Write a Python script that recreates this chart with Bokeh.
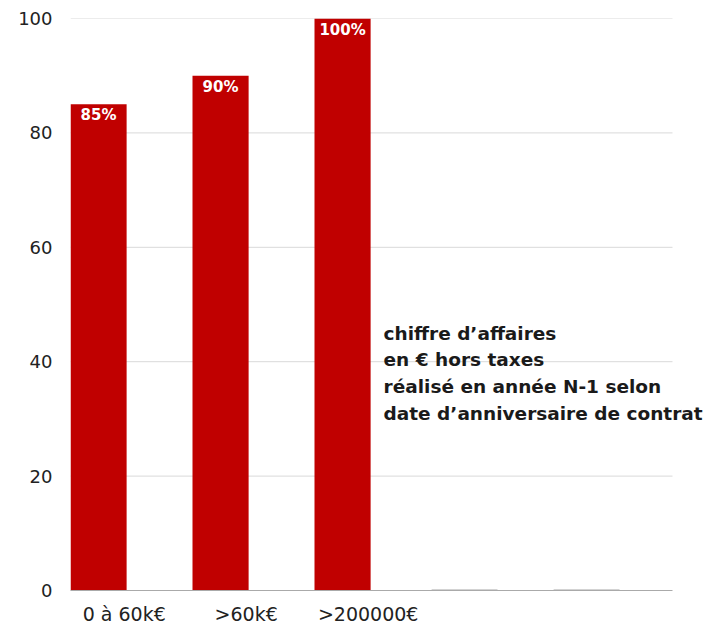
from bokeh.plotting import figure
from bokeh.models import Range1d, FixedTicker, Label, ColumnDataSource
from bokeh.core.properties import value
from bokeh.embed import file_html
from bokeh.resources import INLINE

categories = ["0 à 60k€", ">60k€", ">200000€", "", ""]
values = [85, 90, 100, 0, 0]
value_labels = ["85%", "90%", "100%", "", ""]
y_ticks = [0, 20, 40, 60, 80, 100]

FONT = "DejaVu Sans"
RED = "#c00000"
SLOT = 122.0          # pixels per category
PLOT_END = 602 / SLOT  # where grid lines stop (data units)

bar_off = 0.23
lab_off = 0.44
xs = [i + bar_off for i in range(len(categories))]

p = figure(frame_width=638, frame_height=572, output_backend="svg", toolbar_location=None,
           x_range=Range1d(0, 638 / SLOT), y_range=Range1d(0, 100),
           min_border_left=70, min_border_right=0, min_border_top=18, min_border_bottom=10)
p.outline_line_color = None
p.background_fill_color = "white"

# horizontal grid lines, limited to the plotting area
p.xgrid.grid_line_color = None
p.ygrid.grid_line_color = None
p.segment(x0=[0] * len(y_ticks[1:]), x1=[PLOT_END] * len(y_ticks[1:]), y0=y_ticks[1:], y1=y_ticks[1:],
          line_color="#d9d9d9", line_width=1)

nz = [i for i, v in enumerate(values) if v > 0]
z = [i for i, v in enumerate(values) if v == 0]
src = ColumnDataSource(dict(x=[xs[i] for i in nz], top=[values[i] for i in nz],
                            lab=[value_labels[i] for i in nz]))
p.vbar(x="x", top="top", bottom=0, width=0.46, source=src, fill_color=RED, line_color=None)
zsrc = ColumnDataSource(dict(x=[xs[i] for i in z], top=[values[i] for i in z]))
p.vbar(x="x", top="top", bottom=0, width=0.54, source=zsrc, fill_color=None,
       line_color="#a8a8a8", line_width=2)

p.text(x="x", y="top", text="lab", source=src, text_color="white", text_font=value(FONT),
       text_font_style="bold", text_font_size="15px", text_align="center",
       text_baseline="top", y_offset=2)

# y axis
p.yaxis.ticker = FixedTicker(ticks=y_ticks)
p.yaxis.axis_line_color = None
p.yaxis.major_tick_line_color = None
p.yaxis.minor_tick_line_color = None
p.yaxis.major_tick_out = 0
p.yaxis.minor_tick_out = 0
p.yaxis.major_label_standoff = 18
p.yaxis.major_label_text_font = FONT
p.yaxis.major_label_text_font_size = "18px"
p.yaxis.major_label_text_color = "#222222"

# x axis
tick_pos = [i + lab_off for i in range(len(categories))]
p.xaxis.ticker = FixedTicker(ticks=tick_pos)
p.xaxis.major_label_overrides = {t: c for t, c in zip(tick_pos, categories)}
p.xaxis.bounds = (0, PLOT_END)
p.xaxis.axis_line_color = "#aaaaaa"
p.xaxis.major_tick_line_color = None
p.xaxis.minor_tick_line_color = None
p.xaxis.major_tick_out = 0
p.xaxis.minor_tick_out = 0
p.xaxis.major_label_standoff = 12
p.xaxis.major_label_text_font = FONT
p.xaxis.major_label_text_font_size = "19px"
p.xaxis.major_label_text_color = "#222222"

note = Label(x=2.566, y=38,
             text="chiffre d\u2019affaires\nen € hors taxes\nréalisé en année N-1 selon\ndate d\u2019anniversaire de contrat",
             text_font=FONT, text_font_size="18.5px", text_font_style="bold",
             text_color="#1a1a1a", text_baseline="middle", text_align="left",
             text_line_height=1.27)
p.add_layout(note)

open("out.html", "w").write(file_html(p, INLINE))
